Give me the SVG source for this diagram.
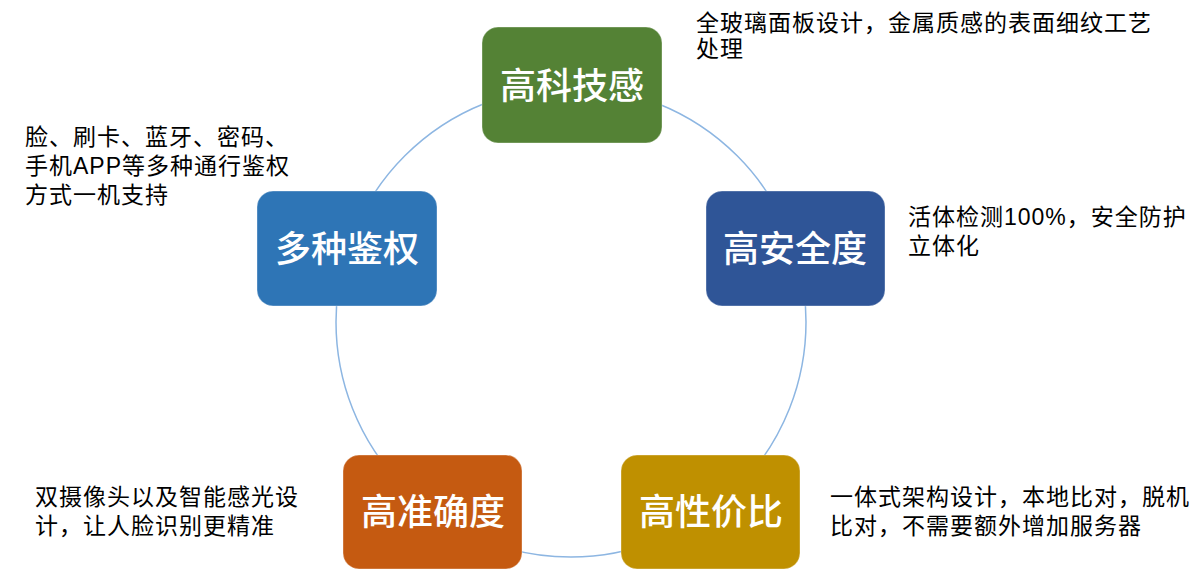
<svg xmlns="http://www.w3.org/2000/svg" width="1200" height="575" viewBox="0 0 1200 575">
<style>
.node rect{stroke:#ffffff;stroke-opacity:0.35;stroke-width:1}
.label{font-family:"Noto Sans CJK SC","Liberation Sans",sans-serif;font-size:36px;font-weight:500;fill:#ffffff;text-anchor:middle}
.desc{font-family:"Liberation Sans","Noto Sans CJK SC",sans-serif;font-size:23px;letter-spacing:1px;fill:#000000}
.ring{fill:none;stroke:#8DB6E2;stroke-width:1.5}
</style>
<rect x="0" y="0" width="1200" height="575" fill="#ffffff"/>
<g id="connectors">
<circle class="ring" cx="571" cy="322" r="235"/>
</g>
<g id="node-tech" class="node">
<rect x="482" y="27" width="180" height="116" rx="16" fill="#548235"/>
<text class="label" x="572" y="99">高科技感</text>
</g>
<g id="node-auth" class="node">
<rect x="257" y="191" width="180" height="115" rx="16" fill="#2E75B6"/>
<text class="label" x="347" y="262">多种鉴权</text>
</g>
<g id="node-safe" class="node">
<rect x="706" y="191" width="179" height="115" rx="16" fill="#2F5597"/>
<text class="label" x="795" y="262">高安全度</text>
</g>
<g id="node-accuracy" class="node">
<rect x="343" y="455" width="179" height="114" rx="16" fill="#C55A11"/>
<text class="label" x="433" y="525">高准确度</text>
</g>
<g id="node-cost" class="node">
<rect x="621" y="455" width="179" height="114" rx="16" fill="#BF9000"/>
<text class="label" x="711" y="525">高性价比</text>
</g>
<g id="descriptions">
<text class="desc" x="696" y="31">全玻璃面板设计，金属质感的表面细纹工艺</text>
<text class="desc" x="696" y="57">处理</text>
<text class="desc" x="25" y="145">脸、刷卡、蓝牙、密码、</text>
<text class="desc" x="25" y="174">手机APP等多种通行鉴权</text>
<text class="desc" x="25" y="203">方式一机支持</text>
<text class="desc" x="908" y="225">活体检测100%，安全防护</text>
<text class="desc" x="908" y="254">立体化</text>
<text class="desc" x="35" y="505">双摄像头以及智能感光设</text>
<text class="desc" x="35" y="534">计，让人脸识别更精准</text>
<text class="desc" x="830" y="505">一体式架构设计，本地比对，脱机</text>
<text class="desc" x="830" y="534">比对，不需要额外增加服务器</text>
</g>
</svg>
